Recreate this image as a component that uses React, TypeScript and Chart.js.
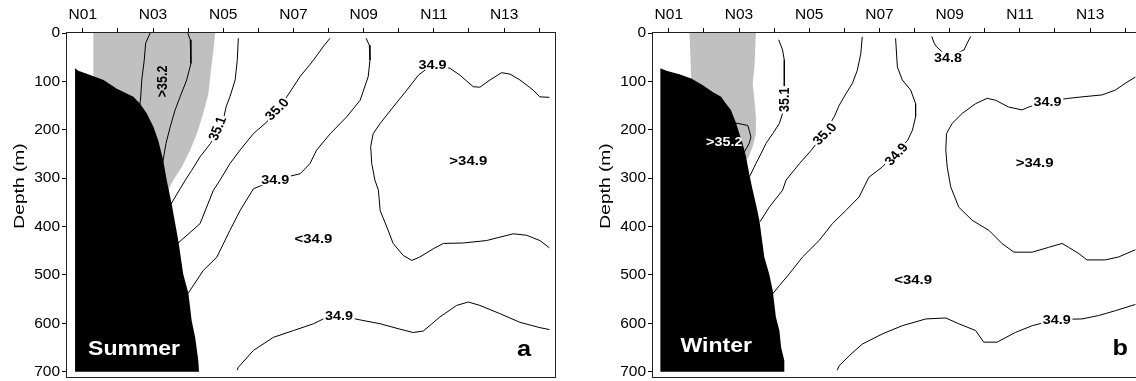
import React, { useEffect, useRef } from 'react';
import { Chart, registerables } from 'chart.js';

Chart.register(...registerables);

// ---------- axes ----------
const stationTicks = ['N01', 'N02', 'N03', 'N04', 'N05', 'N06', 'N07', 'N08', 'N09', 'N10', 'N11', 'N12', 'N13', 'N14'];
const depthTicks = [0, 100, 200, 300, 400, 500, 600, 700];
const depthTitle = 'Depth (m)';
const stationMin = 0.55;
const stationMax = 14.45;
const depthMax = 711;

// ---------- Summer (a) : [station, depth m] ----------
const summerShelf: [number, number][] = [
  [0.78, 73], [0.87, 78], [1.21, 87], [1.59, 97], [1.97, 115], [2.44, 132], [2.63, 146], [2.82, 166],
  [3.01, 194], [3.15, 222], [3.29, 263], [3.39, 304], [3.53, 353], [3.72, 429], [3.86, 498], [4.01, 539],
  [4.10, 594], [4.20, 629], [4.29, 677], [4.31, 700], [0.78, 700],
];
const summerCore: [number, number][] = [
  [1.30, 0], [4.77, 0], [4.72, 35], [4.64, 83], [4.58, 125], [4.43, 166], [4.25, 208], [4.06, 242],
  [3.82, 277], [3.58, 304], [3.43, 325], [3.0, 320], [1.30, 320],
];
const summer352West: [number, number][] = [[2.92, 0], [2.79, 21], [2.75, 56], [2.68, 97], [2.65, 132], [2.62, 152]];
const summer352East: [number, number][] = [
  [3.99, 0], [4.06, 14], [4.08, 63], [3.96, 97], [3.77, 132], [3.63, 159], [3.49, 194], [3.37, 228], [3.28, 266],
];
const summer351: [number, number][] = [
  [5.43, 11], [5.40, 56], [5.34, 97], [5.19, 132], [5.08, 153], [5.00, 180], [4.64, 228], [4.34, 256],
  [4.10, 284], [3.92, 304], [3.50, 355],
];
const summer350: [number, number][] = [
  [8.04, 11], [7.85, 28], [7.57, 56], [7.19, 90], [6.81, 132], [6.24, 184], [5.86, 208], [5.48, 242],
  [5.19, 270], [4.91, 304], [4.72, 325], [4.34, 394], [3.70, 435],
];
const summer349Upper: [number, number][] = [
  [9.07, 11], [9.16, 25], [9.18, 56], [9.13, 90], [8.90, 139], [8.52, 173], [8.05, 208], [7.66, 242],
  [7.47, 270], [7.19, 291], [6.48, 303], [5.86, 322], [5.48, 367], [5.19, 408], [4.82, 463], [4.43, 491],
  [4.00, 538],
];
const summer349Loop: [number, number][] = [
  [14.29, 133], [14.02, 132], [13.83, 118], [13.45, 97], [13.17, 85], [12.93, 82], [12.60, 97], [12.31, 112],
  [12.12, 111], [11.74, 87], [11.46, 73], [10.96, 65], [10.56, 87], [10.23, 118], [9.84, 153], [9.47, 187],
  [9.27, 208], [9.20, 235], [9.23, 270], [9.32, 304], [9.42, 325], [9.47, 367], [9.66, 401], [9.84, 435],
  [10.13, 460], [10.37, 470], [10.60, 463], [10.98, 446], [11.27, 435], [11.84, 434], [12.50, 429],
  [13.26, 415], [13.64, 418], [14.02, 429], [14.29, 444],
];
const summer349Deep: [number, number][] = [
  [5.40, 697], [5.43, 691], [5.86, 656], [6.43, 629], [7.00, 615], [7.57, 601], [7.85, 591], [8.30, 584],
  [8.90, 593], [9.47, 601], [10.03, 612], [10.41, 619], [10.70, 616], [11.17, 587], [11.65, 563],
  [11.98, 556], [12.31, 563], [12.88, 580], [13.45, 598], [14.02, 609], [14.29, 613],
];
const summerNotes = [
  { text: '>35.2', x: 3.25, y: 100, rot: -90, kind: 'core' },
  { text: '35.1', x: 4.82, y: 197, rot: -70, kind: 'contour' },
  { text: '35.0', x: 6.52, y: 157, rot: -48, kind: 'contour' },
  { text: '34.9', x: 6.48, y: 303, rot: 0, kind: 'contour' },
  { text: '34.9', x: 10.96, y: 65, rot: 0, kind: 'contour' },
  { text: '34.9', x: 8.30, y: 584, rot: 0, kind: 'contour' },
  { text: '>34.9', x: 11.98, y: 263, rot: 0, kind: 'region' },
  { text: '<34.9', x: 7.57, y: 425, rot: 0, kind: 'region' },
  { text: 'Summer', x: 2.46, y: 653, rot: 0, kind: 'season' },
  { text: 'a', x: 13.57, y: 653, rot: 0, kind: 'panel' },
];

// ---------- Winter (b) ----------
const winterShelf: [number, number][] = [
  [0.76, 73], [0.93, 78], [1.30, 85], [1.64, 94], [1.97, 108], [2.25, 122], [2.49, 132], [2.63, 146],
  [2.77, 159], [2.92, 187], [3.01, 208], [3.10, 228], [3.20, 256], [3.29, 291], [3.39, 325], [3.48, 353],
  [3.58, 387], [3.72, 463], [3.86, 498], [3.96, 532], [4.05, 587], [4.15, 615], [4.20, 650], [4.29, 677],
  [4.29, 700], [0.76, 700],
];
const winterCore: [number, number][] = [
  [1.59, 0], [3.48, 0], [3.44, 70], [3.39, 104], [3.44, 139], [3.48, 173], [3.48, 208], [3.39, 235],
  [3.25, 260], [2.90, 260], [1.64, 200], [1.64, 97],
];
const winter352: [number, number][] = [[2.90, 186], [3.25, 191], [3.29, 201], [3.34, 215], [3.29, 228], [3.15, 246]];
const winter351: [number, number][] = [
  [4.13, 14], [4.24, 35], [4.29, 56], [4.29, 97], [4.29, 139], [4.24, 166], [4.15, 187], [3.96, 208],
  [3.77, 228], [3.63, 249], [3.48, 270], [3.30, 297],
];
const winter350: [number, number][] = [
  [6.51, 8], [6.47, 42], [6.37, 77], [6.23, 104], [6.05, 125], [5.85, 150], [5.72, 172], [5.43, 208],
  [5.05, 243], [4.72, 270], [4.34, 304], [4.24, 325], [3.86, 360], [3.60, 390],
];
const winter349Upper: [number, number][] = [
  [7.46, 11], [7.51, 70], [7.65, 97], [7.89, 118], [8.03, 146], [8.03, 173], [7.94, 201], [7.80, 222],
  [7.08, 277], [6.70, 298], [6.42, 339], [6.04, 367], [5.66, 394], [5.28, 429], [4.81, 463], [4.43, 498],
  [4.15, 522], [3.95, 540],
];
const winter348: [number, number][] = [[8.49, 7], [8.56, 21], [8.62, 28], [8.95, 50], [9.41, 35], [9.50, 21], [9.60, 7]];
const winter349Loop: [number, number][] = [
  [14.29, 91], [14.00, 104], [13.72, 118], [13.34, 128], [12.77, 132], [12.39, 135], [11.79, 141],
  [11.25, 153], [11.06, 159], [10.68, 153], [10.31, 139], [10.07, 135], [9.74, 146], [9.36, 166],
  [9.07, 187], [8.91, 208], [8.89, 242], [8.93, 277], [9.03, 318], [9.26, 360], [9.64, 387], [10.12, 408],
  [10.49, 435], [10.83, 453], [11.35, 453], [11.82, 443], [12.20, 435], [12.39, 443], [12.68, 456],
  [12.91, 469], [13.43, 469], [13.81, 463], [14.29, 448],
];
const winter349Deep: [number, number][] = [
  [5.80, 697], [5.85, 688], [6.14, 667], [6.51, 643], [7.08, 622], [7.65, 605], [8.32, 591], [8.89, 589],
  [9.26, 601], [9.74, 615], [9.97, 639], [10.35, 639], [10.87, 619], [11.35, 605], [12.05, 592],
  [12.77, 591], [13.24, 584], [13.72, 574], [14.29, 561],
];
const winterNotes = [
  { text: '>35.2', x: 2.58, y: 224, rot: 0, kind: 'coreDark' },
  { text: '35.1', x: 4.29, y: 138, rot: -90, kind: 'contour' },
  { text: '35.0', x: 5.43, y: 208, rot: -48, kind: 'contour' },
  { text: '34.9', x: 7.47, y: 250, rot: -50, kind: 'contour' },
  { text: '34.8', x: 8.95, y: 50, rot: 0, kind: 'contour' },
  { text: '34.9', x: 11.79, y: 141, rot: 0, kind: 'contour' },
  { text: '34.9', x: 12.05, y: 592, rot: 0, kind: 'contour' },
  { text: '>34.9', x: 11.42, y: 267, rot: 0, kind: 'region' },
  { text: '<34.9', x: 7.96, y: 510, rot: 0, kind: 'region' },
  { text: 'Winter', x: 2.35, y: 646, rot: 0, kind: 'season' },
  { text: 'b', x: 13.86, y: 650, rot: 0, kind: 'panel' },
];

// ---------- styling ----------
const FONT = '"Liberation Sans", Arial, Helvetica, sans-serif';
const STRETCH = 1.15;
const noteStyle: Record<string, { size: number; color: string; bg: boolean }> = {
  contour: { size: 12.5, color: '#000', bg: true },
  core: { size: 12.5, color: '#000', bg: false },
  coreDark: { size: 12.5, color: '#fff', bg: false },
  region: { size: 13, color: '#000', bg: false },
  season: { size: 20, color: '#fff', bg: false },
  panel: { size: 22, color: '#000', bg: false },
};

type Pair = [number, number];
type Note = { text: string; x: number; y: number; rot: number; kind: string };
type PanelDef = { shelf: Pair[]; core: Pair[]; lines: Pair[][]; notes: Note[] };

const summerPanel: PanelDef = {
  shelf: summerShelf,
  core: summerCore,
  lines: [summer352West, summer352East, summer351, summer350, summer349Upper, summer349Loop, summer349Deep],
  notes: summerNotes,
};
const winterPanel: PanelDef = {
  shelf: winterShelf,
  core: winterCore,
  lines: [winter352, winter351, winter350, winter349Upper, winter348, winter349Loop, winter349Deep],
  notes: winterNotes,
};

const toPts = (arr: Pair[]) => arr.map(([x, y]) => ({ x, y }));

function buildChart(canvas: HTMLCanvasElement, def: PanelDef) {
  const framePlugin = {
    id: 'frame',
    afterDraw(chart: any) {
      const { ctx, chartArea: a } = chart;
      ctx.save();
      ctx.strokeStyle = '#222';
      ctx.lineWidth = 1;
      ctx.strokeRect(a.left - 0.5, a.top - 0.5, a.right - a.left + 1, a.bottom - a.top + 1);
      // y-axis title
      ctx.translate(20, 186);
      ctx.rotate(-Math.PI / 2);
      ctx.scale(1.37, 1);
      ctx.font = `14px ${FONT}`;
      ctx.fillStyle = '#000';
      ctx.textAlign = 'center';
      ctx.textBaseline = 'middle';
      ctx.fillText(depthTitle, 0, 0);
      ctx.restore();
    },
  };
  const notesPlugin = {
    id: 'notes',
    afterDatasetsDraw(chart: any) {
      const { ctx } = chart;
      const xs = chart.scales.x;
      const ys = chart.scales.y;
      for (const n of def.notes) {
        const st = noteStyle[n.kind];
        const px = xs.getPixelForValue(n.x);
        const py = ys.getPixelForValue(n.y);
        ctx.save();
        ctx.translate(px, py);
        ctx.scale(STRETCH, 1);
        ctx.rotate((n.rot * Math.PI) / 180);
        ctx.font = `bold ${st.size}px ${FONT}`;
        ctx.textAlign = 'center';
        ctx.textBaseline = 'middle';
        if (st.bg) {
          const w = ctx.measureText(n.text).width;
          ctx.fillStyle = '#fff';
          ctx.fillRect(-w / 2 - 1.5, -st.size * 0.45, w + 3, st.size * 0.9);
        }
        ctx.fillStyle = st.color;
        ctx.fillText(n.text, 0, 1);
        ctx.restore();
      }
    },
  };

  const datasets: any[] = [
    {
      data: toPts(def.shelf), showLine: true, fill: 'shape', backgroundColor: '#000', borderWidth: 0,
      pointRadius: 0, order: 0,
    },
    ...def.lines.map((l) => ({
      data: toPts(l), showLine: true, fill: false, borderColor: '#000', borderWidth: 1, pointRadius: 0,
      tension: 0, order: 1,
    })),
    {
      data: toPts(def.core), showLine: true, fill: 'shape', backgroundColor: '#c0c0c0', borderWidth: 0,
      pointRadius: 0, order: 2,
    },
  ];

  return new Chart(canvas, {
    type: 'scatter',
    data: { datasets },
    options: {
      responsive: false,
      animation: false,
      events: [],
      layout: { padding: { left: 0, right: 15, top: 0, bottom: 4 } },
      plugins: { legend: { display: false }, tooltip: { enabled: false } },
      scales: {
        x: {
          type: 'linear',
          position: 'top',
          min: stationMin,
          max: stationMax,
          afterBuildTicks: (s: any) => {
            s.ticks = stationTicks.map((_, i) => ({ value: i + 1 }));
          },
          ticks: {
            autoSkip: false,
            maxRotation: 0,
            padding: 4,
            color: '#000',
            font: { size: 15.5, family: FONT },
            callback: (v: any) => {
              const i = Math.round(Number(v)) - 1;
              return i % 2 === 0 ? stationTicks[i] : '';
            },
          },
          grid: { drawOnChartArea: false, drawTicks: true, tickLength: 5, color: '#000' },
          border: { display: false },
          afterFit: (s: any) => {
            s.height = 33;
            s.paddingLeft = 0;
            s.paddingRight = 0;
          },
        },
        y: {
          type: 'linear',
          position: 'left',
          reverse: true,
          min: 0,
          max: depthMax,
          afterBuildTicks: (s: any) => {
            s.ticks = depthTicks.map((v) => ({ value: v }));
          },
          ticks: { padding: 2, color: '#000', font: { size: 15.5, family: FONT } },
          grid: { drawOnChartArea: false, drawTicks: true, tickLength: 5, color: '#000' },
          border: { display: false },
          title: { display: false },
          afterFit: (s: any) => {
            s.width = 67;
            s.paddingTop = 0;
            s.paddingBottom = 0;
          },
        },
      },
    } as any,
    plugins: [framePlugin, notesPlugin],
  });
}

function Panel({ def, left }: { def: PanelDef; left: number }) {
  const ref = useRef<HTMLCanvasElement>(null);
  useEffect(() => {
    const chart = buildChart(ref.current as HTMLCanvasElement, def);
    return () => chart.destroy();
  }, [def]);
  return (
    <canvas
      ref={ref}
      width={570}
      height={381}
      style={{ position: 'absolute', left, top: 0, display: 'block', width: 570, height: 381 }}
    />
  );
}

export default function App() {
  return (
    <div
      style={{
        position: 'fixed', left: 0, top: 0, width: 1136, height: 381, overflow: 'hidden', background: '#fff',
      }}
    >
      <Panel def={summerPanel} left={0} />
      <Panel def={winterPanel} left={586} />
    </div>
  );
}
